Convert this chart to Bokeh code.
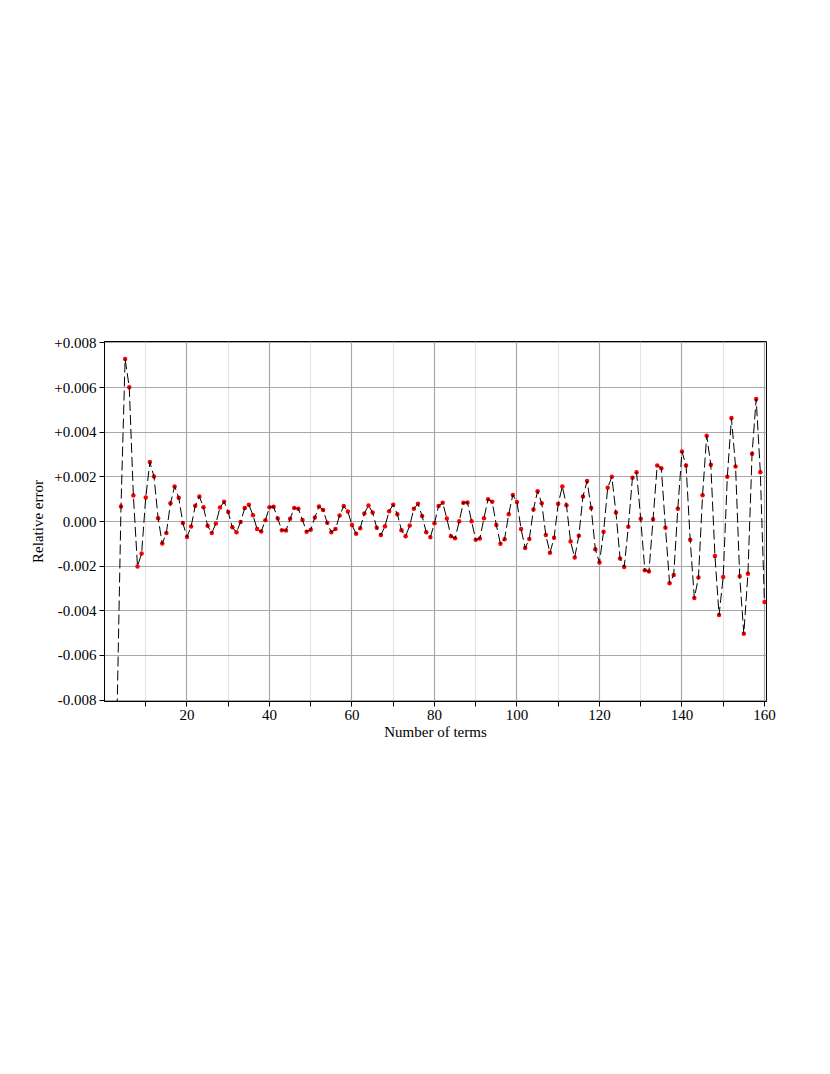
from bokeh.plotting import figure
from bokeh.models import FixedTicker, CustomJSTickFormatter, ColumnDataSource, Range1d
from bokeh.embed import file_html
from bokeh.resources import INLINE

# ---- data ----
terms = list(range(3, 161))
rel_error = [
    -0.00900, 0.00067, 0.00728, 0.00601, 0.00116, -0.00201, -0.00143, 0.00107, 0.00266, 0.00201,
    0.00015, -0.00099, -0.00051, 0.00082, 0.00157, 0.00106, -0.00007, -0.00069, -0.00022, 0.00070,
    0.00112, 0.00064, -0.00019, -0.00052, -0.00009, 0.00063, 0.00088, 0.00042, -0.00026, -0.00048,
    -0.00002, 0.00060, 0.00075, 0.00028, -0.00034, -0.00045, 0.00006, 0.00064, 0.00066, 0.00013,
    -0.00039, -0.00040, 0.00012, 0.00061, 0.00057, 0.00007, -0.00046, -0.00037, 0.00018, 0.00067,
    0.00052, -0.00006, -0.00048, -0.00034, 0.00027, 0.00069, 0.00045, -0.00016, -0.00055, -0.00030,
    0.00036, 0.00072, 0.00040, -0.00028, -0.00061, -0.00021, 0.00046, 0.00075, 0.00033, -0.00039,
    -0.00066, -0.00018, 0.00057, 0.00079, 0.00025, -0.00048, -0.00070, -0.00008, 0.00069, 0.00084,
    0.00013, -0.00066, -0.00075, 0.00001, 0.00084, 0.00085, 0.00001, -0.00082, -0.00076, 0.00015,
    0.00100, 0.00088, -0.00016, -0.00100, -0.00079, 0.00033, 0.00119, 0.00087, -0.00034, -0.00119,
    -0.00078, 0.00054, 0.00136, 0.00082, -0.00061, -0.00140, -0.00073, 0.00079, 0.00157, 0.00073,
    -0.00090, -0.00161, -0.00064, 0.00112, 0.00181, 0.00060, -0.00124, -0.00184, -0.00046, 0.00151,
    0.00200, 0.00040, -0.00166, -0.00204, -0.00024, 0.00196, 0.00221, 0.00012, -0.00218, -0.00224,
    0.00010, 0.00251, 0.00239, -0.00028, -0.00276, -0.00240, 0.00057, 0.00313, 0.00251, -0.00082,
    -0.00343, -0.00251, 0.00118, 0.00384, 0.00254, -0.00154, -0.00419, -0.00249, 0.00200, 0.00463,
    0.00246, -0.00245, -0.00503, -0.00234, 0.00303, 0.00549, 0.00221, -0.00361,
]
x_major_ticks = [20, 40, 60, 80, 100, 120, 140, 160]
x_minor_ticks = [10, 30, 50, 70, 90, 110, 130, 150]
y_ticks = [-0.008, -0.006, -0.004, -0.002, 0.0, 0.002, 0.004, 0.006, 0.008]

FONT = "Liberation Serif"

src = ColumnDataSource(dict(x=terms, y=rel_error))

p = figure(frame_width=662, frame_height=360,
           x_range=Range1d(0, 160.5), y_range=Range1d(-0.00806, 0.00806),
           output_backend="svg", toolbar_location=None,
           min_border_left=104, min_border_top=341, min_border_right=40, min_border_bottom=300)

p.background_fill_color = "white"
p.border_fill_color = "white"
p.outline_line_color = "black"
p.outline_line_width = 1

# axes
p.xaxis.ticker = FixedTicker(ticks=x_major_ticks, minor_ticks=x_minor_ticks)
p.yaxis.ticker = FixedTicker(ticks=y_ticks, minor_ticks=[])
p.yaxis.formatter = CustomJSTickFormatter(code="return (tick > 1e-9 ? '+' : '') + tick.toFixed(3);")

p.xaxis.axis_label = "Number of terms"
p.yaxis.axis_label = "Relative error"
for ax in (p.xaxis, p.yaxis):
    ax.axis_line_color = "black"
    ax.major_tick_line_color = "black"
    ax.minor_tick_line_color = "black"
    ax.major_tick_in = 0
    ax.major_tick_out = 5
    ax.minor_tick_in = 0
    ax.minor_tick_out = 5
    ax.major_label_text_font = FONT
    ax.major_label_text_font_size = "15px"
    ax.major_label_text_color = "black"
    ax.axis_label_text_font = FONT
    ax.axis_label_text_font_size = "15px"
    ax.axis_label_text_font_style = "normal"
    ax.axis_label_text_color = "black"
    ax.major_label_standoff = 3
    ax.axis_label_standoff = 1
p.yaxis.axis_label_standoff = 5

# grids
p.xgrid.grid_line_color = "#a8a8a8"
p.xgrid.grid_line_width = 1.2
p.xgrid.minor_grid_line_color = "#e4e4e4"
p.xgrid.minor_grid_line_width = 1.2
p.ygrid.grid_line_color = "#a8a8a8"
p.ygrid.grid_line_width = 1.2

# data
p.scatter("x", "y", source=src, size=4.5, fill_color="red", line_color=None)
p.line("x", "y", source=src, line_color="black", line_width=1, line_dash="10 4")

open("out.html", "w").write(file_html(p, INLINE))
